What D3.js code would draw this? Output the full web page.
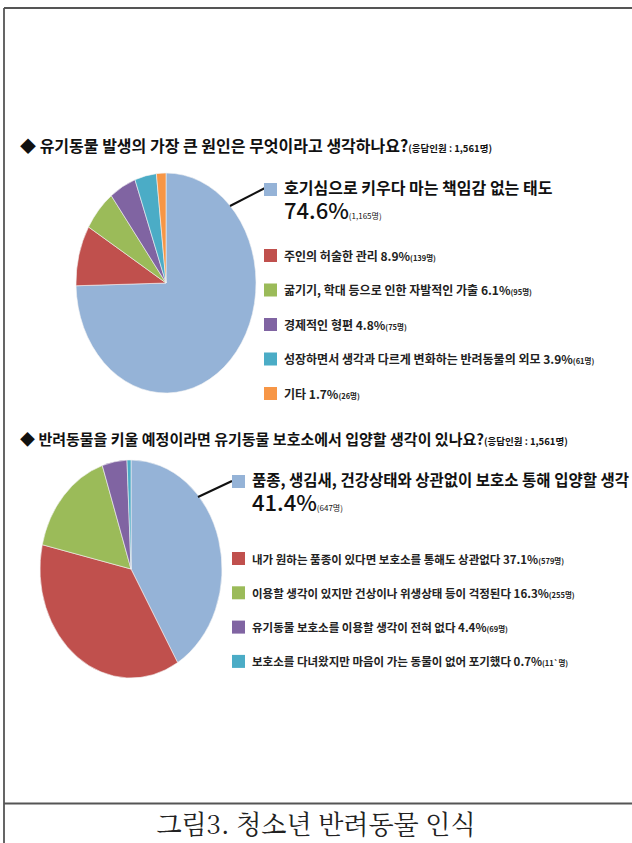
<!DOCTYPE html>
<html>
<head>
<meta charset="utf-8">
<script src="https://cdn.jsdelivr.net/npm/d3@7"></script>
<style>
  body { margin: 0; background: #fff; }
  svg { display: block; font-family: "Noto Sans CJK KR", sans-serif; }
</style>
</head>
<body>
<div id="chart"></div>
<script>
// question 1 : causes of abandoned animals
var causeLabels = ["호기심으로 키우다 마는 책임감 없는 태도", "주인의 허술한 관리", "굶기기, 학대 등으로 인한 자발적인 가출", "경제적인 형편", "성장하면서 생각과 다르게 변화하는 반려동물의 외모", "기타"];
var causePct = [74.6, 8.9, 6.1, 4.8, 3.9, 1.7];
var causeCount = ["1,165", "139", "95", "75", "61", "26"];

// question 2 : adopting from a shelter
var adoptLabels = ["품종, 생김새, 건강상태와 상관없이 보호소 통해 입양할 생각", "내가 원하는 품종이 있다면 보호소를 통해도 상관없다", "이용할 생각이 있지만 건상이나 위생상태 등이 걱정된다", "유기동물 보호소를 이용할 생각이 전혀 없다", "보호소를 다녀왔지만 마음이 가는 동물이 없어 포기했다"];
var adoptPct = [41.4, 37.1, 16.3, 4.4, 0.7];
var adoptCount = ["647", "579", "255", "69", "11`"];

var titles = ["◆ 유기동물 발생의 가장 큰 원인은 무엇이라고 생각하나요?", "◆ 반려동물을 키울 예정이라면 유기동물 보호소에서 입양할 생각이 있나요?"];
var respondents = "(응답인원 : 1,561명)";
var caption = "그림3. 청소년 반려동물 인식";

var palette = ["#95b3d7", "#c0504d", "#9bbb59", "#8064a2", "#4bacc6", "#f79646"];

var W = 632, H = 843;
var svg = d3.select("#chart").append("svg").attr("width", W).attr("height", H);

// frame lines
var frame = svg.append("g").attr("stroke", "#555").attr("stroke-width", 1.8);
frame.append("line").attr("x1", 4).attr("y1", 8).attr("x2", W).attr("y2", 8);
frame.append("line").attr("x1", 4).attr("y1", 8).attr("x2", 4).attr("y2", H);
frame.append("line").attr("x1", 4).attr("y1", 803.5).attr("x2", W).attr("y2", 803.5);

svg.append("text")
  .attr("x", 316).attr("y", 834)
  .attr("text-anchor", "middle")
  .attr("font-family", "'Noto Serif CJK KR', 'Batang', serif")
  .attr("font-size", 26).attr("fill", "#222")
  .text(caption);

function drawBlock(opt){
  var g = svg.append("g");

  var t = g.append("text").attr("x", 20).attr("y", opt.titleY)
    .attr("font-size", opt.titleFont).attr("font-weight", "bold").attr("fill", "#111");
  t.append("tspan").text(opt.title);
  t.append("tspan").attr("font-size", 9.5).text(respondents);

  var pie = d3.pie().sort(null).value(function(d){ return d; });
  var arc = d3.arc().innerRadius(0).outerRadius(100);

  var pg = g.append("g")
    .attr("transform", "translate(" + opt.cx + "," + opt.cy + ") scale(" + (opt.rx / 100) + "," + (opt.ry / 100) + ")");
  pg.selectAll("path.slice")
    .data(pie(opt.values)).enter()
    .append("path")
    .attr("class", "slice")
    .attr("d", arc)
    .attr("fill", function(d, i){ return palette[i]; })
    .attr("stroke", "#f4f4f4").attr("stroke-width", 0.6);

  // leader line for the biggest slice
  g.append("line")
    .attr("x1", opt.lead[0]).attr("y1", opt.lead[1])
    .attr("x2", opt.lead[2]).attr("y2", opt.lead[3])
    .attr("stroke", "#111").attr("stroke-width", 2);

  var sq = 13;
  // main item
  g.append("rect").attr("x", opt.lx).attr("y", opt.mainY - sq + 1).attr("width", sq).attr("height", sq).attr("fill", palette[0]);
  g.append("text").attr("x", opt.lx + 20).attr("y", opt.mainY - 1)
    .attr("font-size", opt.mainFont).attr("font-weight", "bold").attr("fill", "#111")
    .text(opt.labels[0]);
  var big = g.append("text").attr("x", opt.lx + 20).attr("y", opt.mainY + 24).attr("fill", "#111");
  big.append("tspan").attr("font-size", 22).attr("font-weight", 500).text(opt.values[0] + "%");
  big.append("tspan").attr("font-size", 8).text("(" + opt.counts[0] + "명)");

  // other items
  var rows = g.selectAll("g.item")
    .data(opt.labels.slice(1)).enter()
    .append("g").attr("class", "item")
    .attr("transform", function(d, i){ return "translate(" + opt.lx + "," + (opt.itemY + i * opt.step) + ")"; });
  rows.append("rect").attr("x", 0).attr("y", -7).attr("width", sq).attr("height", sq)
    .attr("fill", function(d, i){ return palette[i + 1]; });
  var tx = rows.append("text").attr("x", 20).attr("y", 4.5)
    .attr("font-size", opt.itemFont).attr("font-weight", "bold").attr("fill", "#222");
  tx.append("tspan").text(function(d, i){ return d + " " + opt.values[i + 1] + "%"; });
  tx.append("tspan").attr("font-size", 7.5).text(function(d, i){ return "(" + opt.counts[i + 1] + "명)"; });
}

drawBlock({
  title: titles[0], titleY: 152, titleFont: 16,
  values: causePct, labels: causeLabels, counts: causeCount,
  cx: 166, cy: 283, rx: 90, ry: 110,
  lead: [230, 206, 265, 188],
  lx: 264, mainY: 195, mainFont: 16, itemY: 256, step: 34.5, itemFont: 12
});

drawBlock({
  title: titles[1], titleY: 445, titleFont: 15,
  values: adoptPct, labels: adoptLabels, counts: adoptCount,
  cx: 131, cy: 569, rx: 91, ry: 109,
  lead: [198, 497, 232, 481],
  lx: 232, mainY: 487, mainFont: 15.5, itemY: 559, step: 34.3, itemFont: 11.5
});
</script>
</body>
</html>
